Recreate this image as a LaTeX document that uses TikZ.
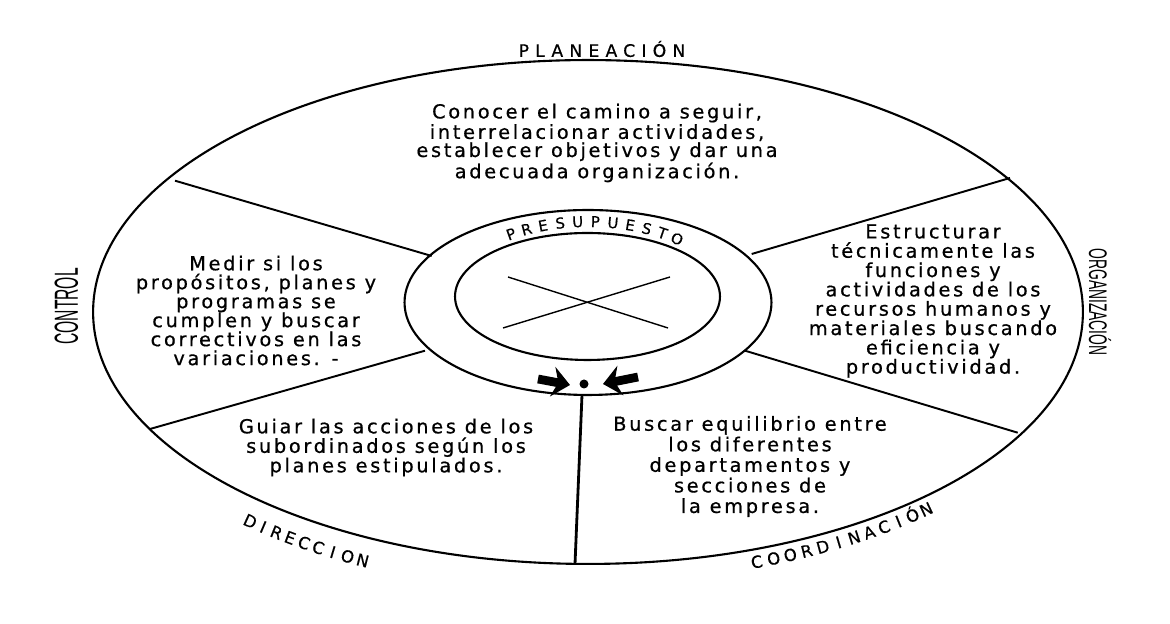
\documentclass[tikz,border=0pt]{standalone}
\usepackage{fontspec}
\usepackage{graphicx}
\setmainfont{DejaVu Sans}
\newfontfamily\bodyfont[LetterSpace=14,FakeBold=0.7]{DejaVu Sans}
\newfontfamily\capfont[LetterSpace=36,FakeBold=0.5]{DejaVu Sans}
\newfontfamily\arcfont[FakeBold=0.5]{DejaVu Sans}
\newfontfamily\sidefont{Liberation Sans}
\usetikzlibrary{arrows.meta}
\tikzset{
  rim/.style={line width=1.2pt},
  spoke/.style={line width=1.1pt},
  thinx/.style={line width=0.8pt},
  body/.style={font={\bodyfont\fontsize{11pt}{10.8pt}\selectfont}, align=center, inner sep=0pt},
  toplabel/.style={font={\capfont\fontsize{9.8pt}{10pt}\selectfont}, inner sep=0pt},
  arcletter/.style={font={\arcfont\fontsize{9.4pt}{10pt}\selectfont}, inner sep=0pt, anchor=base},
  sidelabel/.style={inner sep=0pt},
  fatarrow/.style={line width=5pt, -{Stealth[length=10pt,width=17pt]}}
}
\begin{document}
\begin{tikzpicture}[x=0.02cm,y=0.02cm]
\useasboundingbox (0,0) rectangle (1170,624);
\fill[white] (0,0) rectangle (1170,624);

% ellipses
\coordinate (C) at (588,312);
\draw[rim] (C) ellipse [x radius=9.9cm, y radius=5.04cm];
\coordinate (R) at (588,321.5);
\draw[rim] (R) ellipse [x radius=3.67cm, y radius=1.85cm];
\coordinate (I) at (587.5,327.5);
\draw[rim] (I) ellipse [x radius=2.65cm, y radius=1.27cm];

% cross
\coordinate (x1) at (508,347);
\coordinate (x2) at (668,296);
\coordinate (x3) at (503,296);
\coordinate (x4) at (670,347);
\draw[thinx] (x1) -- (x2);
\draw[thinx] (x3) -- (x4);

% spokes
\coordinate (ulO) at (175,443.3);
\coordinate (ulI) at (431.7,368);
\coordinate (llO) at (150,195);
\coordinate (llI) at (425,273.3);
\coordinate (urI) at (751.7,370);
\coordinate (urO) at (1010,446);
\coordinate (lrI) at (745,273.3);
\coordinate (lrO) at (1017.7,191.3);
\coordinate (vI) at (582,229);
\coordinate (vO) at (575,60);
\draw[spoke] (ulO) -- (ulI);
\draw[spoke] (llO) -- (llI);
\draw[spoke] (urI) -- (urO);
\draw[spoke] (lrI) -- (lrO);
\draw[line width=1.6pt] (vI) -- (vO);

% dot and arrows
\node[circle, fill=black, inner sep=0pt, minimum size=9*0.02cm] (dot) at (584,240) {};
\coordinate (laT) at (538,245);
\coordinate (laH) at (570,239);
\coordinate (raT) at (638,247);
\coordinate (raH) at (603,240);
\draw[fatarrow] (laT) -- (laH);
\draw[fatarrow] (raT) -- (raH);

% body texts
\node[body, font={\bodyfont\fontsize{11pt}{10.3pt}\selectfont}] (tplan) at (597,481)
  {Conocer el camino a seguir,\\interrelacionar actividades,\\establecer objetivos y dar una\\adecuada organización.};
\node[body] (tctrl) at (256,313.5)
  {Medir si los\\propósitos, planes y\\programas se\\cumplen y buscar\\correctivos en las\\variaciones. -};
\node[body, font={\bodyfont\fontsize{11pt}{11pt}\selectfont}] (torg) at (933,323)
  {Estructurar\\técnicamente las\\funciones y\\actividades de los\\recursos humanos y\\materiales buscando\\eficiencia y\\productividad.};
\node[body, font={\bodyfont\fontsize{11pt}{11.1pt}\selectfont}] (tdir) at (386,176.5)
  {Guiar las acciones de los\\subordinados según los\\planes estipulados.};
\node[body, font={\bodyfont\fontsize{11pt}{11.7pt}\selectfont}] (tcoo) at (750,157.5)
  {Buscar equilibrio entre\\los diferentes\\departamentos y\\secciones de\\la empresa.};

% labels
\node[toplabel] (lplan) at (602,575) {PLANEACIÓN};
\node[sidelabel, rotate=90] (lctrl) at (66.5,317.5)
  {\scalebox{0.47}[1]{\sidefont\fontsize{19pt}{19pt}\selectfont CONTROL}};
\node[sidelabel, rotate=-90] (lorg) at (1100,322)
  {\scalebox{0.545}[1]{\sidefont\fontsize{14.5pt}{15pt}\selectfont ORGANIZACIÓN}};

% DIRECCION along the ellipse
\foreach \ch [count=\i from 0] in {D,I,R,E,C,C,I,O,N} {
  \pgfmathsetmacro\t{229.6+\i*1.85}
  \pgfmathsetmacro\rot{atan2(282*cos(\t), -525*sin(\t))}
  \node[arcletter, rotate=\rot] (dir\i) at ({588+525*cos(\t)}, {312+282*sin(\t)}) {\ch};
}
% COORDINACION along the ellipse
\foreach \ch [count=\i from 0] in {C,O,O,R,D,I,N,A,C,I,Ó,N} {
  \pgfmathsetmacro\t{289.3+\i*2.02}
  \pgfmathsetmacro\rot{atan2(271*cos(\t), -514*sin(\t))}
  \node[arcletter, rotate=\rot] (coo\i) at ({588+514*cos(\t)}, {312+271*sin(\t)}) {\ch};
}
% PRESUPUESTO along the ring
\foreach \ch [count=\i from 0] in {P,R,E,S,U,P,U,E,S,T,O} {
  \pgfmathsetmacro\t{123-\i*7.2}
  \pgfmathsetmacro\rot{atan2(-75.5*cos(\t), 138*sin(\t))}
  \node[arcletter, font={\arcfont\fontsize{8.5pt}{10pt}\selectfont}, rotate=\rot] (pre\i) at ({588+138*cos(\t)}, {321.5+75.5*sin(\t)}) {\ch};
}
\end{tikzpicture}
\end{document}
